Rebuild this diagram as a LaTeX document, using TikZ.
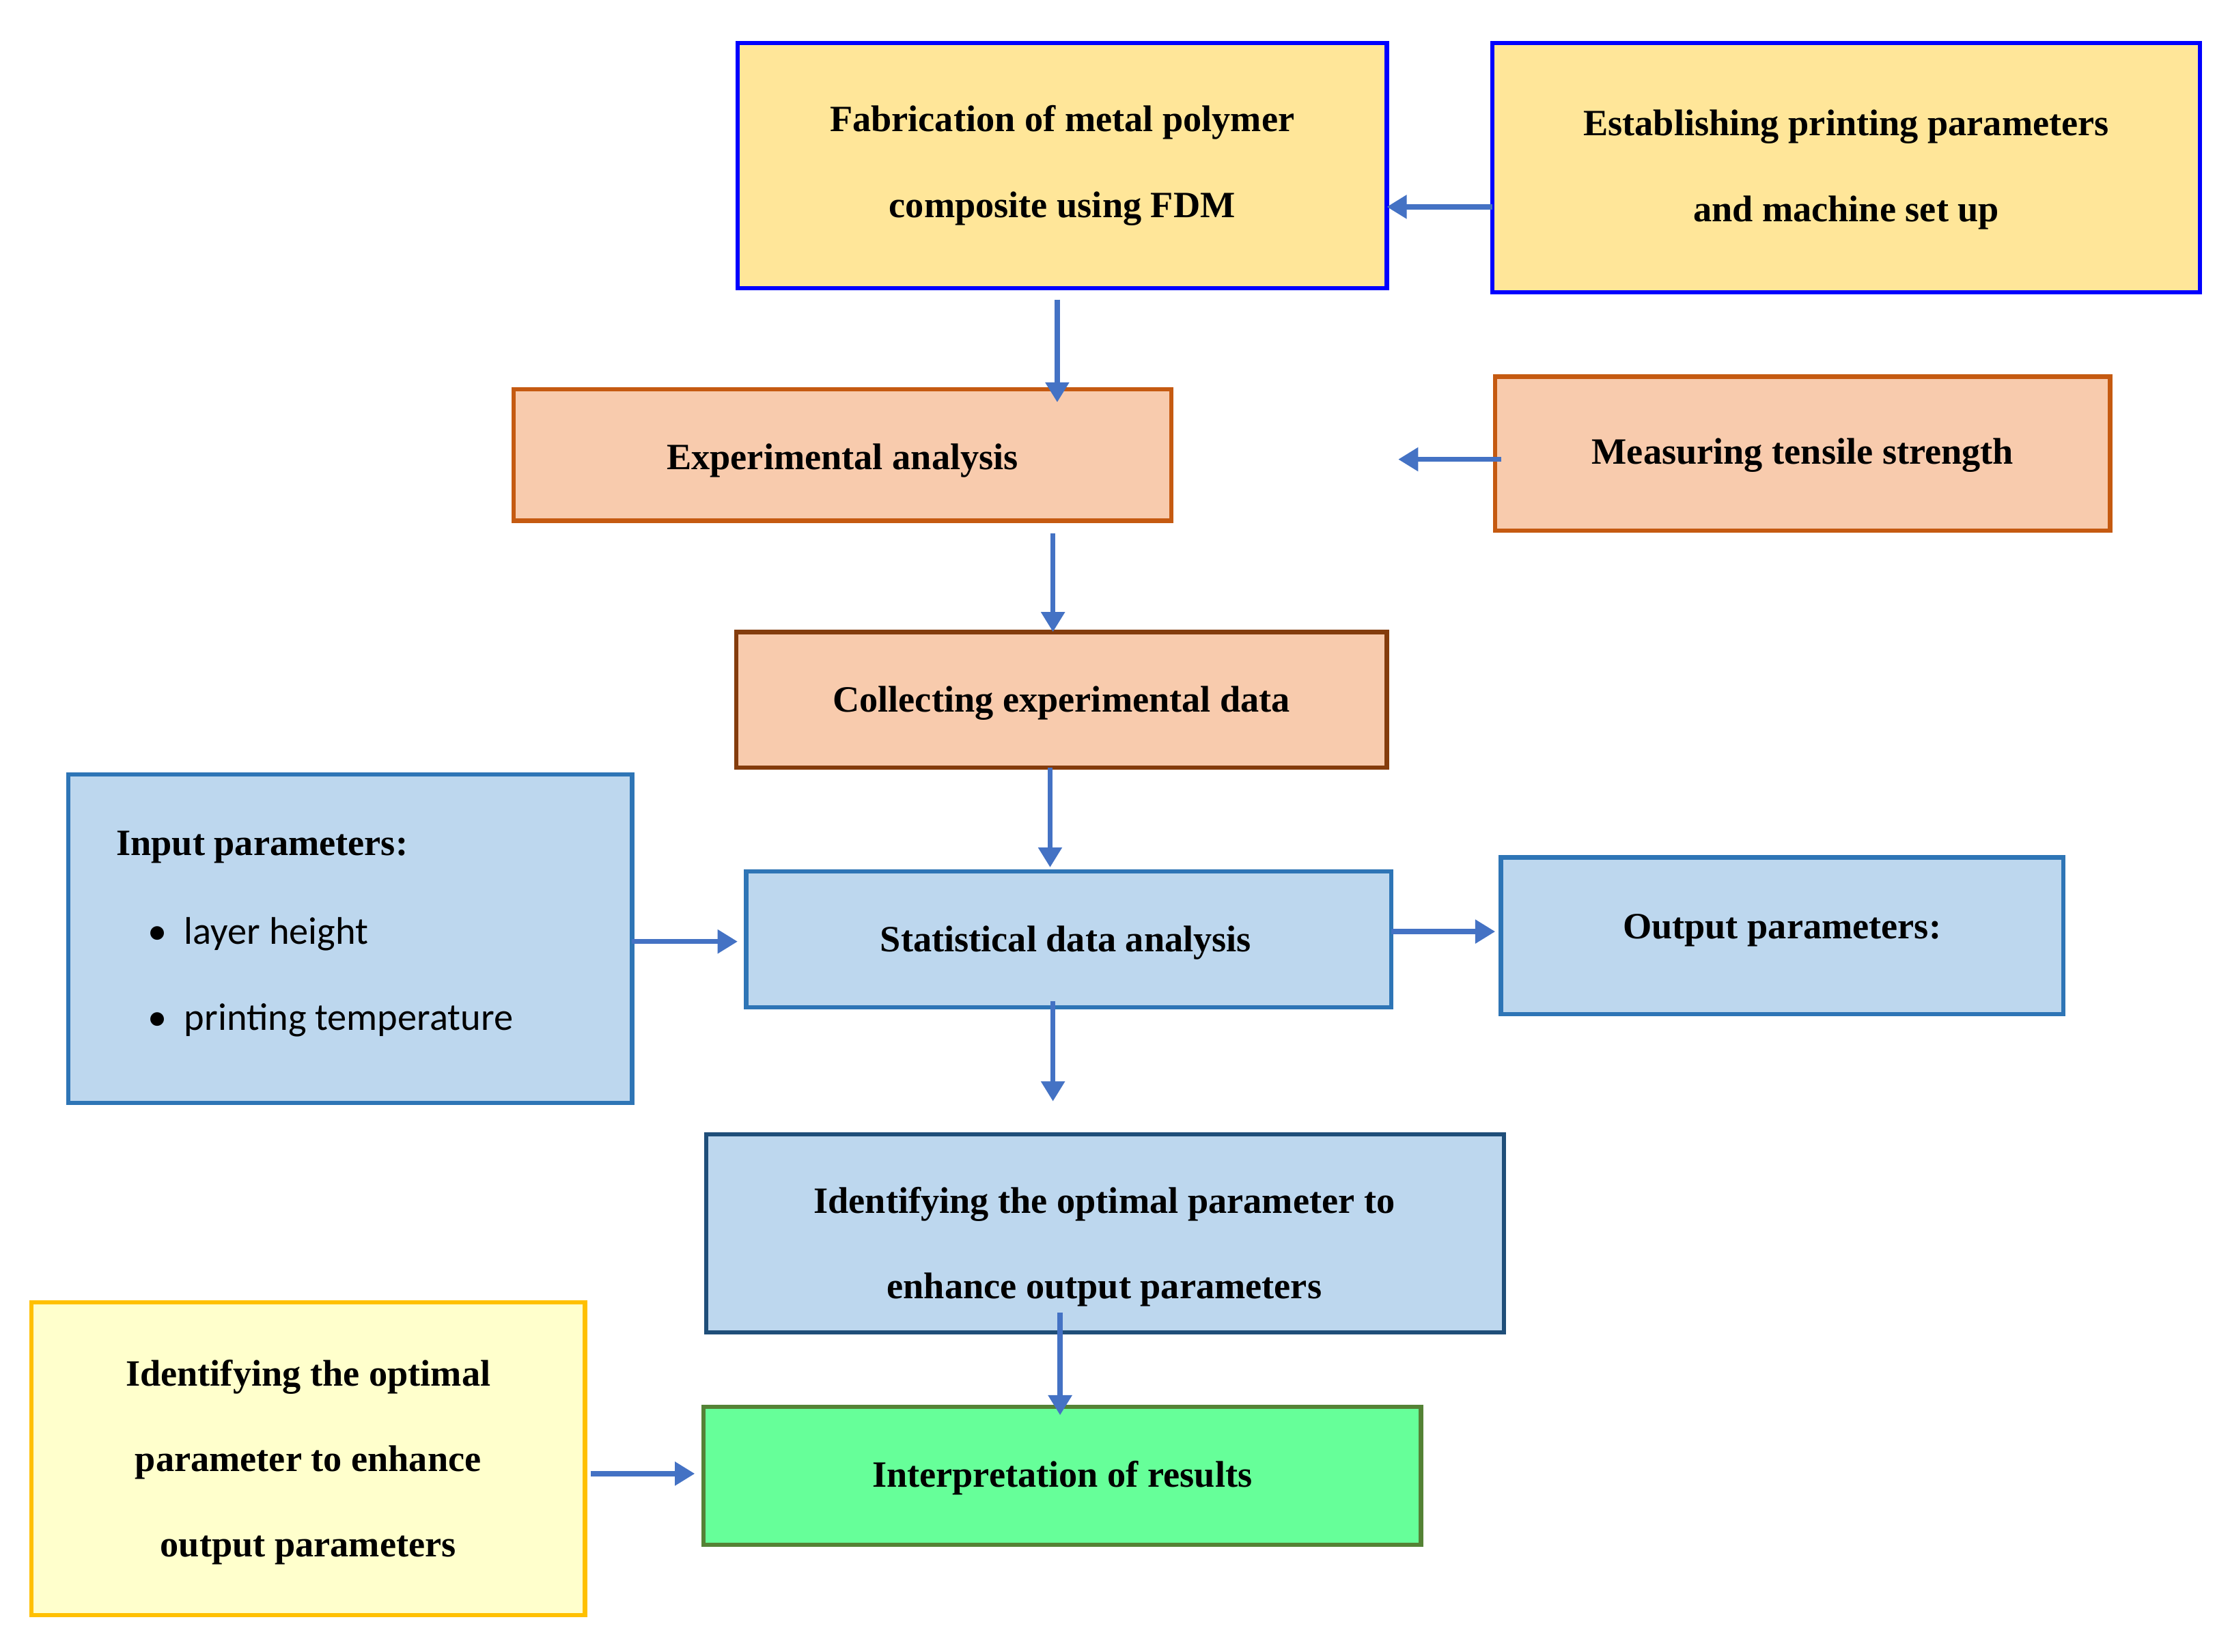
\documentclass[tikz,border=0pt]{standalone}
\usepackage{fontspec}
\setmainfont{Liberation Serif}
\newfontfamily\carl{Carlito}
\usetikzlibrary{arrows.meta}
\definecolor{ylw}{HTML}{FFE699}
\definecolor{bluB}{HTML}{0000FF}
\definecolor{org}{HTML}{F8CBAD}
\definecolor{orgB}{HTML}{C55A11}
\definecolor{orgD}{HTML}{843C0C}
\definecolor{lb}{HTML}{BDD7EE}
\definecolor{lbB}{HTML}{2E75B6}
\definecolor{db}{HTML}{1F4E79}
\definecolor{ly}{HTML}{FFFFCC}
\definecolor{lyB}{HTML}{FFC000}
\definecolor{gr}{HTML}{66FF99}
\definecolor{grB}{HTML}{548235}
\definecolor{arr}{HTML}{4472C4}
\tikzset{
 box/.style={draw,line width=3pt,inner sep=0pt},
 txt/.style={font=\fontsize{26}{60}\selectfont\bfseries,align=center},
 ar/.style={draw=arr,line width=3.5pt,-{Triangle[length=14pt,width=16pt]}}
}
\begin{document}
\begin{tikzpicture}[x=1pt,y=-1pt]
\useasboundingbox (0,0) rectangle (1563,1158);
\fill[white] (0,0) rectangle (1563,1158);
\draw[box,fill=ylw,draw=bluB] (517,30) rectangle (972,202);
\node[txt] (fab) at (744.5,116) {Fabrication of metal polymer\\composite using FDM};
\draw[box,fill=ylw,draw=bluB] (1046,30) rectangle (1542,205);
\node[txt] (est) at (1294,119) {Establishing printing parameters\\and machine set up};
\draw[box,fill=org,draw=orgB] (360,273) rectangle (821,365);
\node[txt] (exp) at (590.5,323) {Experimental analysis};
\draw[box,fill=org,draw=orgB] (1048,264) rectangle (1479,372);
\node[txt] (mea) at (1263.5,319) {Measuring tensile strength};
\draw[box,fill=org,draw=orgD] (516,443) rectangle (972,538);
\node[txt] (col) at (744,493) {Collecting experimental data};
\draw[box,fill=lb,draw=lbB] (48,543) rectangle (443,773);
\node[txt,anchor=west] (inp) at (78,594) {Input parameters:};
\node[font=\carl\fontsize{27}{30}\selectfont,anchor=west] (b1) at (100,655) {\textbullet\ \ layer height};
\node[font=\carl\fontsize{27}{30}\selectfont,anchor=west] (b2) at (100,715) {\textbullet\ \ printing temperature};
\draw[box,fill=lb,draw=lbB] (523,611) rectangle (975,706);
\node[txt] (sta) at (747,661) {Statistical data analysis};
\draw[box,fill=lb,draw=lbB] (1052,601) rectangle (1446,711);
\node[txt] (out) at (1249,652) {Output parameters:};
\draw[box,fill=lb,draw=db] (495,795) rectangle (1054,934);
\node[txt] (ide) at (774,874) {Identifying the optimal parameter to\\enhance output parameters};
\draw[box,fill=ly,draw=lyB] (22,913) rectangle (410,1132);
\node[txt] (yel) at (216,1025) {Identifying the optimal\\parameter to enhance\\output parameters};
\draw[box,fill=gr,draw=grB] (493,986) rectangle (996,1083);
\node[txt] (int) at (744.5,1036) {Interpretation of results};
\coordinate (a1s) at (1046,145); \coordinate (a1e) at (972,145);
\draw[ar] (a1s) -- (a1e);
\coordinate (a2s) at (741,210); \coordinate (a2e) at (741,282);
\draw[ar] (a2s) -- (a2e);
\coordinate (a3s) at (1052,322); \coordinate (a3e) at (980,322);
\draw[ar] (a3s) -- (a3e);
\coordinate (a4s) at (738,374); \coordinate (a4e) at (738,443);
\draw[ar] (a4s) -- (a4e);
\coordinate (a5s) at (736,538); \coordinate (a5e) at (736,608);
\draw[ar] (a5s) -- (a5e);
\coordinate (a6s) at (443,660); \coordinate (a6e) at (517,660);
\draw[ar] (a6s) -- (a6e);
\coordinate (a7s) at (975,653); \coordinate (a7e) at (1048,653);
\draw[ar] (a7s) -- (a7e);
\coordinate (a8s) at (738,702); \coordinate (a8e) at (738,772);
\draw[ar] (a8s) -- (a8e);
\coordinate (a9s) at (743,920); \coordinate (a9e) at (743,992);
\draw[ar] (a9s) -- (a9e);
\coordinate (a10s) at (414,1033); \coordinate (a10e) at (487,1033);
\draw[ar] (a10s) -- (a10e);
\end{tikzpicture}
\end{document}
